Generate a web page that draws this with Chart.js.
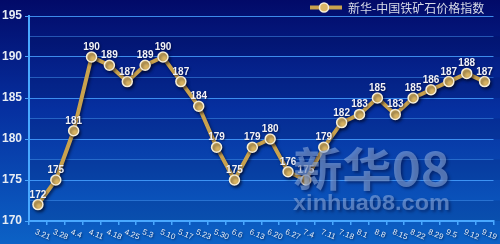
<!DOCTYPE html>
<html><head><meta charset="utf-8">
<script src="https://cdn.jsdelivr.net/npm/chart.js@4.4.0/dist/chart.umd.min.js"></script>
<style>html,body{margin:0;padding:0;background:#041070;}#wrap{width:500px;height:244px;}</style>
</head><body><div id="wrap"><canvas id="c" width="500" height="244"></canvas></div>
<script>
const categories = ["3.21","3.28","4.4","4.11","4.18","4.25","5.3","5.10","5.17","5.23","5.30","6.6","6.13","6.20","6.27","7.4","7.11","7.18","8.1","8.8","8.15","8.22","8.29","9.5","9.12","9.19"];
const indexValues = [172,175,181,190,189,187,189,190,187,184,179,175,179,180,176,175,179,182,183,185,183,185,186,187,188,187];
const seriesName = "新华-中国铁矿石价格指数";
const yTicks = [170,175,180,185,190,195];
const watermark1 = "新华08";
const watermark2 = "xinhua08.com";

const bgPlugin = {
  id: 'bg',
  beforeDraw(chart) {
    const {ctx, width, height, chartArea: a, scales: {y}} = chart;
    ctx.save();
    const g = ctx.createLinearGradient(0, 0, 0, height);
    g.addColorStop(0, '#020a68');
    g.addColorStop(0.45, '#0630a0');
    g.addColorStop(1, '#0c62c6');
    ctx.fillStyle = g;
    ctx.fillRect(0, 0, width, height);
    for (let v = 170; v < 195; v += 2.5) {
      const idx = Math.round((v - 170) / 2.5);
      if (idx % 2 === 0) {
        const yt = y.getPixelForValue(v + 2.5), yb = y.getPixelForValue(v);
        ctx.fillStyle = 'rgba(0,10,60,0.12)';
        ctx.fillRect(a.left, yt, width - a.left, yb - yt);
      }
    }
    ctx.restore();
  },
  beforeDatasetDraw(chart) {
    const ctx = chart.ctx;
    ctx.save();
    ctx.shadowColor = 'rgba(0,0,20,0.55)';
    ctx.shadowBlur = 3;
    ctx.shadowOffsetX = 1.5;
    ctx.shadowOffsetY = 2;
  },
  afterDatasetDraw(chart) {
    chart.ctx.restore();
  },
  afterDatasetsDraw(chart) {
    const {ctx, scales: {x, y}} = chart;
    const meta = chart.getDatasetMeta(0);
    ctx.save();
    ctx.font = 'bold 10px "Liberation Sans", Arial, sans-serif';
    ctx.textAlign = 'center';
    ctx.textBaseline = 'alphabetic';
    ctx.shadowColor = 'rgba(0,0,30,0.6)';
    ctx.shadowBlur = 2;
    ctx.shadowOffsetX = 1; ctx.shadowOffsetY = 1;
    ctx.fillStyle = '#f2f2f6';
    meta.data.forEach((pt, i) => {
      ctx.fillText(String(indexValues[i]), pt.x, pt.y - 7);
    });
    ctx.font = '8px "Liberation Sans", Arial, sans-serif';
    ctx.textAlign = 'left';
    ctx.textBaseline = 'top';
    ctx.fillStyle = '#e4ecf6';
    categories.forEach((c, i) => {
      const px = x.getPixelForValue(i);
      ctx.save();
      ctx.translate(px - 1, y.bottom + 7);
      ctx.rotate(22 * Math.PI / 180);
      ctx.fillText(c, 0, 0);
      ctx.restore();
    });
    ctx.shadowColor = 'rgba(0,0,40,0.7)';
    ctx.shadowBlur = 3;
    ctx.shadowOffsetX = 2; ctx.shadowOffsetY = 2;
    ctx.fillStyle = 'rgba(140,170,222,0.58)';
    ctx.textBaseline = 'alphabetic';
    ctx.font = 'bold 46px "Noto Sans CJK SC", sans-serif';
    let w = ctx.measureText(watermark1).width;
    ctx.save();
    ctx.translate(293, 186);
    ctx.scale(157 / w, 1);
    ctx.fillText(watermark1, 0, 0);
    ctx.restore();
    ctx.font = 'bold 22px "Liberation Sans", Arial, sans-serif';
    w = ctx.measureText(watermark2).width;
    ctx.save();
    ctx.translate(293, 210);
    ctx.scale(157 / w, 1);
    ctx.fillText(watermark2, 0, 0);
    ctx.restore();
    ctx.restore();
  },
  afterDraw(chart) {
    const ctx = chart.ctx;
    ctx.save();
    ctx.strokeStyle = '#c9a24e';
    ctx.lineWidth = 4;
    ctx.beginPath(); ctx.moveTo(310, 7.5); ctx.lineTo(342, 7.5); ctx.stroke();
    ctx.beginPath(); ctx.arc(324, 7.5, 4.5, 0, Math.PI * 2);
    ctx.fillStyle = '#dab666'; ctx.fill();
    ctx.lineWidth = 1.5; ctx.strokeStyle = '#f6eed8'; ctx.stroke();
    ctx.font = '12px "Noto Sans CJK SC", sans-serif';
    ctx.fillStyle = '#d8dce8';
    ctx.textAlign = 'left';
    ctx.textBaseline = 'middle';
    ctx.fillText(seriesName, 348, 8);
    ctx.restore();
  }
};

new Chart(document.getElementById('c'), {
  type: 'line',
  data: {
    labels: categories,
    datasets: [{
      label: seriesName,
      data: indexValues,
      borderColor: '#c9a24e',
      borderWidth: 4,
      tension: 0,
      pointRadius: 5,
      pointHoverRadius: 5,
      pointBackgroundColor: '#d9b462',
      pointBorderColor: '#f6eed8',
      pointBorderWidth: 1.5,
      fill: false
    }]
  },
  options: {
    responsive: false,
    animation: false,
    layout: { padding: { top: 16, right: 1, left: 0, bottom: 0 } },
    plugins: { legend: { display: false }, tooltip: { enabled: false } },
    scales: {
      x: {
        type: 'category',
        offset: true,
        grid: { offset: true, drawOnChartArea: false, color: '#49a8ff', tickLength: 4, lineWidth: 1.5 },
        border: { color: '#49a8ff', width: 2 },
        ticks: { display: false },
        afterFit(s) { s.height = 23; }
      },
      y: {
        min: 170, max: 195,
        ticks: {
          stepSize: 2.5,
          autoSkip: false,
          color: '#e6ecf4',
          font: { family: '"Liberation Sans", Arial, sans-serif', size: 12, weight: 'bold' },
          padding: 3,
          callback: (v) => yTicks.includes(v) ? String(v) : ''
        },
        grid: {
          color: (c) => (c.tick && yTicks.includes(c.tick.value)) ? 'rgba(70,160,255,0.85)' : 'rgba(70,150,240,0.5)',
          lineWidth: 1,
          tickLength: 4,
          tickColor: (c) => (c.tick && yTicks.includes(c.tick.value)) ? '#49a8ff' : 'rgba(0,0,0,0)'
        },
        border: { color: '#49a8ff', width: 2 },
        afterFit(s) { s.width = 29; }
      }
    }
  },
  plugins: [bgPlugin]
});
</script></body></html>
